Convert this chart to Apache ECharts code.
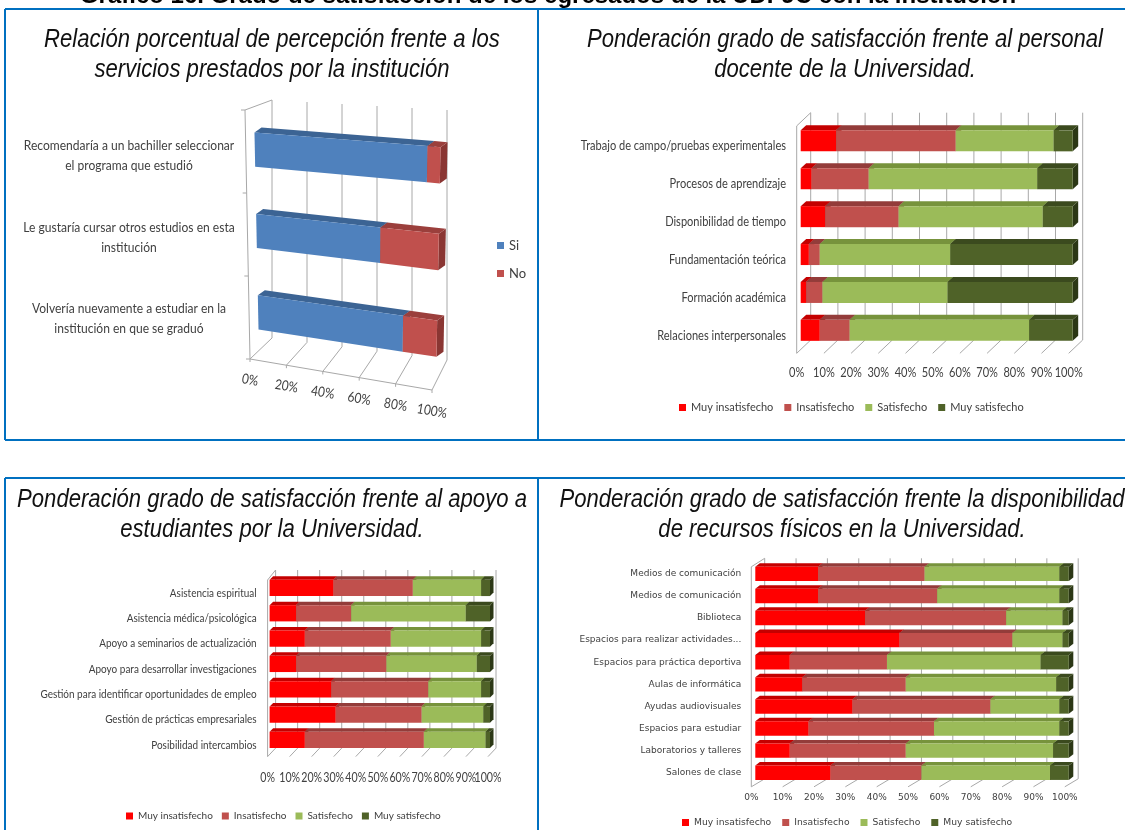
<!DOCTYPE html>
<html><head><meta charset="utf-8">
<script src="https://cdn.jsdelivr.net/npm/echarts@6/dist/echarts.min.js"></script>
<style>html,body{margin:0;padding:0;background:#fff}#c{width:1125px;height:830px}</style>
</head><body><div id="c"></div>
<script>
const CAL = "Lato,'Liberation Sans',sans-serif";   // Calibri-like labels
const SX = 0.85;                                   // horizontal squeeze of label text
const WIDE = "'DejaVu Sans',Verdana,sans-serif";
const ARIAL = "'Liberation Sans',Arial,sans-serif";

// ---------- Panel 1 data ----------
const cat1 = [
  'Recomendaría a un bachiller seleccionar\nel programa que estudió',
  'Le gustaría cursar otros estudios en esta\ninstitución',
  'Volvería nuevamente a estudiar en la\ninstitución en que se graduó'
];
const si1 = [93, 68, 81];
const no1 = [7, 32, 19];
const ticks1 = [0, 20, 40, 60, 80, 100];

// ---------- Panel 2 data ----------
const cat2 = ['Trabajo de campo/pruebas experimentales','Procesos de aprendizaje','Disponibilidad de tiempo','Fundamentación teórica','Formación académica','Relaciones interpersonales'];
const muyIns2 = [13, 4, 9, 3, 2, 7];
const ins2    = [44, 21, 27, 4, 6, 11];
const sat2    = [36, 62, 53, 48, 46, 66];
const muySat2 = [7, 13, 11, 45, 46, 16];

// ---------- Panel 3 data ----------
const cat3 = ['Asistencia espiritual','Asistencia médica/psicológica','Apoyo a seminarios de actualización','Apoyo para desarrollar investigaciones','Gestión para identificar oportunidades de empleo','Gestión de prácticas empresariales','Posibilidad intercambios'];
const muyIns3 = [29, 12, 16, 12, 28, 30, 16];
const ins3    = [36, 25, 39, 41, 44, 39, 54];
const sat3    = [31, 52, 41, 41, 24, 28, 28];
const muySat3 = [4, 11, 4, 6, 4, 3, 2];

// ---------- Panel 4 data ----------
const cat4 = ['Medios de comunicación','Medios de comunicación','Biblioteca','Espacios para realizar actividades...','Espacios para práctica deportiva','Aulas de informática','Ayudas audiovisuales','Espacios para estudiar','Laboratorios y talleres','Salones de clase'];
const muyIns4 = [20, 20, 35, 46, 11, 15, 31, 17, 11, 24];
const ins4    = [34, 38, 45, 36, 31, 33, 44, 40, 37, 29];
const sat4    = [43, 39, 18, 16, 49, 48, 22, 40, 47, 41];
const muySat4 = [3, 3, 2, 2, 9, 4, 3, 3, 5, 6];

const ticks10 = [0,10,20,30,40,50,60,70,80,90,100];
const legNames = ['Muy insatisfecho','Insatisfecho','Satisfecho','Muy satisfecho'];
const titles = [
  'Relación porcentual de percepción frente a los\nservicios prestados por la institución',
  'Ponderación grado de satisfacción frente al personal\ndocente de la Universidad.',
  'Ponderación grado de satisfacción frente al apoyo a\nestudiantes por la Universidad.',
  'Ponderación grado de satisfacción frente la disponibilidad\nde recursos físicos en la Universidad.'
];
const mainTitle = 'Gráfico 16. Grado de satisfacción de los egresados de la UDFJC con la institución';

// ---------- styles ----------
const COL = [
  {front:'#FF0000', top:'#C40000', side:'#9E0000'},
  {front:'#C0504D', top:'#933C3A', side:'#7A302E'},
  {front:'#9BBB59', top:'#77933C', side:'#5E762E'},
  {front:'#4F6228', top:'#3B4A1E', side:'#2B3715'}
];
const COL1 = [
  {front:'#4F81BD', top:'#3C6494', side:'#2F5079'},
  {front:'#C0504D', top:'#9B3F3C', side:'#8A3633'}
];
const GRID_C = '#A8A8A8';
const TXT = '#404040';

function stackRows(list){
  const out = []; const n = list[0].length; const acc = new Array(n).fill(0);
  list.forEach(arr => { out.push(arr.map((v,i)=>{ const r=[i, v, acc[i]]; acc[i]+=v; return r; })); });
  return out;
}
function txt(x, y, s, o){
  return {type:'text', x:x, y:y, scaleX:(o.sx==null?SX:o.sx), rotation:o.rot||0,
    style:{text:s, fill:TXT, fontSize:o.fs, fontFamily:o.ff||CAL, align:o.align||'center',
      verticalAlign:'middle', lineHeight:o.lh||Math.round(o.fs*1.25)}};
}

function flatBar(ratio, dx, dy, col){
  return function(params, api){
    const cat = api.value(0), v = api.value(1), s = api.value(2);
    const a = api.coord([s, cat]), b = api.coord([s+v, cat]);
    const h = api.size([0,1])[1]*ratio;
    const x0=a[0], x1=b[0], yT=a[1]-h/2, yB=a[1]+h/2;
    return {type:'group', children:[
      {type:'polygon', shape:{points:[[x1,yT],[x1+dx,yT-dy],[x1+dx,yB-dy],[x1,yB]]}, style:{fill:col.side}},
      {type:'polygon', shape:{points:[[x0,yT],[x0+dx,yT-dy],[x1+dx,yT-dy],[x1,yT]]}, style:{fill:col.top}},
      {type:'rect', shape:{x:x0,y:yT,width:x1-x0,height:h}, style:{fill:col.front}}
    ]};
  };
}

function flatFrame(o){
  return function(params, api){
    const t = api.value(0); const cs = params.coordSys;
    const x = api.coord([t, 0])[0];
    const top = cs.y, bot = cs.y + cs.height;
    const st = {stroke:GRID_C, lineWidth:1};
    const ch = [
      {type:'line', shape:{x1:x+o.bx, y1:top+o.wt, x2:x+o.bx, y2:bot+o.fb}, style:st},
      {type:'line', shape:{x1:x+o.fx, y1:bot+o.ff, x2:x+o.bx, y2:bot+o.fb}, style:st}
    ];
    if (o.lab) ch.push(txt(x+o.fx, bot+o.lab, t+'%', {fs:o.fs}));
    if (t === 0){
      ch.push({type:'line', shape:{x1:x+o.fx, y1:bot+o.ff, x2:x+o.fx, y2:top+o.wft}, style:st});
      ch.push({type:'line', shape:{x1:x+o.fx, y1:top+o.wft, x2:x+o.bx, y2:top+o.wt}, style:st});
    }
    return {type:'group', children:ch};
  };
}

// perspective helpers for panel 1 (relative to the grid rectangle)
function bil(q,u,v){
  return [
    (1-u)*(1-v)*q[0][0] + u*(1-v)*q[1][0] + (1-u)*v*q[2][0] + u*v*q[3][0],
    (1-u)*(1-v)*q[0][1] + u*(1-v)*q[1][1] + (1-u)*v*q[2][1] + u*v*q[3][1]
  ];
}
function quadBar(cs){ return [[cs.x,cs.y],[cs.x+cs.width,cs.y+13],[cs.x+5,cs.y+cs.height],[cs.x+cs.width-5,cs.y+cs.height+29]]; }
function quadWall(cs){ return [[cs.x+18,cs.y-9],[cs.x+cs.width+6,cs.y+1],[cs.x+18,cs.y+cs.height-15],[cs.x+cs.width+6,cs.y+cs.height+7]]; }
function floorFront(cs,u){
  const a=[cs.x-4, cs.y+cs.height+6], b=[cs.x+cs.width-9, cs.y+cs.height+37];
  return [a[0]+(b[0]-a[0])*u, a[1]+(b[1]-a[1])*u];
}

function perspBar(col){
  return function(params, api){
    const cs = params.coordSys;
    const cat = api.value(0), v = api.value(1), s = api.value(2);
    const a = api.coord([s, cat]), b = api.coord([s+v, cat]);
    const hh = api.size([0,1])[1]*0.42/2;
    const u0=(a[0]-cs.x)/cs.width, u1=(b[0]-cs.x)/cs.width;
    const vc=(a[1]-cs.y)/cs.height, v0=vc-hh/cs.height, v1=vc+hh/cs.height;
    const q = quadBar(cs);
    const A=bil(q,u0,v0), B=bil(q,u1,v0), C=bil(q,u1,v1), D=bil(q,u0,v1);
    const dx=7, dy=5;
    const d = p => [p[0]+dx, p[1]-dy];
    return {type:'group', children:[
      {type:'polygon', shape:{points:[B,d(B),d(C),C]}, style:{fill:col.side}},
      {type:'polygon', shape:{points:[A,d(A),d(B),B]}, style:{fill:col.top}},
      {type:'polygon', shape:{points:[A,B,C,D]}, style:{fill:col.front}}
    ]};
  };
}

function perspFrame(params, api){
  const cs = params.coordSys;
  const t = api.value(0); const u = t/100;
  const w = quadWall(cs);
  const st = {stroke:GRID_C, lineWidth:1};
  const top = bil(w,u,0), back = bil(w,u,1), f = floorFront(cs,u);
  const ch = [
    {type:'line', shape:{x1:top[0],y1:top[1],x2:back[0],y2:back[1]}, style:st},
    {type:'line', shape:{x1:f[0],y1:f[1],x2:back[0],y2:back[1]}, style:st},
    {type:'line', shape:{x1:f[0],y1:f[1],x2:f[0],y2:f[1]+3}, style:st},
    txt(f[0], f[1]+21, t+'%', {fs:14, rot:-0.17})
  ];
  if (t === 0){
    const f0 = floorFront(cs,0), f1 = floorFront(cs,1);
    const wt = [cs.x-9, cs.y+1];
    ch.push({type:'line', shape:{x1:f0[0],y1:f0[1],x2:f1[0],y2:f1[1]}, style:st});
    ch.push({type:'line', shape:{x1:wt[0],y1:wt[1],x2:f0[0],y2:f0[1]}, style:st});
    ch.push({type:'line', shape:{x1:wt[0],y1:wt[1],x2:w[0][0],y2:w[0][1]}, style:st});
    [0,1/3,2/3,1].forEach(v => {
      const p=[wt[0]+(f0[0]-wt[0])*v, wt[1]+(f0[1]-wt[1])*v];
      ch.push({type:'line', shape:{x1:p[0]-4,y1:p[1],x2:p[0],y2:p[1]}, style:st});
    });
  }
  return {type:'group', children:ch};
}

// category labels placed through the category axis
function catLabels(gi, cats, o){
  return {type:'custom', xAxisIndex:gi, yAxisIndex:gi, clip:false, silent:true, z:2,
    data:cats.map((c,i)=>[0,i]), encode:{x:0,y:1},
    renderItem:function(params, api){
      const i = api.value(1); const p = api.coord([0, i]);
      return txt(p[0]-o.margin, p[1]+o.dy, cats[i], o);
    }};
}

// ---------- grids / axes ----------
const grids = [
  {left:254, top:109, width:187, height:244},
  {left:800.7, top:121.9, width:272, height:227.4},
  {left:269.6, top:575.3, width:220.4, height:177.3},
  {left:755.3, top:562.8, width:313.5, height:221}
];
function xAx(gi, showLab){
  return {gridIndex:gi, type:'value', min:0, max:100, interval:10,
    axisLine:{show:false}, axisTick:{show:false}, splitLine:{show:false},
    axisLabel:{show:showLab, formatter:'{value}%', fontSize:9, fontFamily:WIDE, color:TXT, margin:9.5, padding:[0,8,0,0]}};
}
function yAx(gi, cats, showLab){
  return {gridIndex:gi, type:'category', inverse:true, data:cats,
    axisLine:{show:false}, axisTick:{show:false}, splitLine:{show:false},
    axisLabel:{show:showLab, interval:0, fontSize:9, fontFamily:WIDE, color:TXT, margin:14, padding:[7,0,0,0], align:'right'}};
}
const xAxis = [xAx(0,false), xAx(1,false), xAx(2,false), xAx(3,true)];
const yAxis = [yAx(0,cat1,false), yAx(1,cat2,false), yAx(2,cat3,false), yAx(3,cat4,true)];

// ---------- series ----------
const series = [];
const frameCfg = [
  null,
  {fx:-4, bx:10, ff:4, fb:-9.3, wt:-9.2, wft:4, lab:23.4, fs:13},
  {fx:-2, bx:6, ff:4, fb:-4.5, wt:-5.3, wft:4.7, lab:25.4, fs:12.5},
  {fx:-4, bx:9.4, ff:3, fb:-5, wt:-4.5, wft:4}
];
// panel 1
series.push({type:'custom', xAxisIndex:0, yAxisIndex:0, clip:false, silent:true, z:1,
  data:ticks1.map(t=>[t,0]), encode:{x:0,y:1}, renderItem:perspFrame});
stackRows([si1, no1]).forEach((rows, k) => {
  series.push({type:'custom', name:['Si','No'][k], xAxisIndex:0, yAxisIndex:0, clip:false, silent:true, z:3,
    itemStyle:{color:COL1[k].front}, data:rows, encode:{x:1,y:0}, renderItem:perspBar(COL1[k])});
});
series.push(catLabels(0, cat1, {margin:125, dy:6, fs:14.2, lh:20}));
// panels 2-4
const panels = [
  [1, [muyIns2, ins2, sat2, muySat2], 0.554, 5.5, 5],
  [2, [muyIns3, ins3, sat3, muySat3], 0.64, 3.5, 3.5],
  [3, [muyIns4, ins4, sat4, muySat4], 0.65, 4.5, 3.5]
];
panels.forEach(([gi, list, ratio, dx, dy]) => {
  series.push({type:'custom', xAxisIndex:gi, yAxisIndex:gi, clip:false, silent:true, z:1,
    data:ticks10.map(t=>[t,0]), encode:{x:0,y:1}, renderItem:flatFrame(frameCfg[gi])});
  stackRows(list).forEach((rows, k) => {
    series.push({type:'custom', name:legNames[k], xAxisIndex:gi, yAxisIndex:gi, clip:false, silent:true, z:3,
      itemStyle:{color:COL[k].front}, data:rows, encode:{x:1,y:0}, renderItem:flatBar(ratio, dx, dy, COL[k])});
  });
});
series.push(catLabels(1, cat2, {margin:14.7, dy:5, fs:13, align:'right'}));
series.push(catLabels(2, cat3, {margin:13, dy:5, fs:12, sx:0.83, align:'right'}));

// ---------- legends / frame / titles ----------
const legBase = {icon:'rect', itemWidth:7, itemHeight:7, selectedMode:false};
const legend = [
  Object.assign({}, legBase, {data:['Si','No'], orient:'vertical', left:492, top:234, itemGap:15,
    textStyle:{fontFamily:CAL, fontSize:13, color:TXT}}),
  Object.assign({}, legBase, {data:legNames, left:674, top:397, itemGap:11,
    textStyle:{fontFamily:CAL, fontSize:11, color:TXT}}),
  Object.assign({}, legBase, {data:legNames, left:121, top:806, itemGap:9,
    textStyle:{fontFamily:CAL, fontSize:10, color:TXT}}),
  Object.assign({}, legBase, {data:legNames, left:677, top:813, itemGap:11,
    textStyle:{fontFamily:WIDE, fontSize:9.2, color:TXT}})
];
const B = {stroke:'#0070C0', lineWidth:2};
function titleText(x, y, s){
  return {type:'text', x:x, y:y, scaleX:0.85,
    style:{text:s, fill:'#111', fontFamily:ARIAL, fontStyle:'italic', fontSize:26, lineHeight:30,
      align:'center', verticalAlign:'middle'}};
}
const graphic = [
  {type:'text', x:548, y:8, style:{text:mainTitle, fill:'#000', fontFamily:ARIAL, fontWeight:'bold', fontSize:24, align:'center', verticalAlign:'bottom'}},
  titleText(272, 55, titles[0]),
  titleText(845, 55, titles[1]),
  titleText(272, 515, titles[2]),
  titleText(842, 515, titles[3]),
  {type:'line', shape:{x1:5,y1:9,x2:1125,y2:9}, style:B},
  {type:'line', shape:{x1:5,y1:9,x2:5,y2:440}, style:B},
  {type:'line', shape:{x1:538,y1:9,x2:538,y2:440}, style:B},
  {type:'line', shape:{x1:5,y1:440,x2:1125,y2:440}, style:B},
  {type:'line', shape:{x1:5,y1:478,x2:1125,y2:478}, style:B},
  {type:'line', shape:{x1:5,y1:478,x2:5,y2:830}, style:B},
  {type:'line', shape:{x1:538,y1:478,x2:538,y2:830}, style:B}
];

const chart = echarts.init(document.getElementById('c'));
chart.setOption({
  backgroundColor:'#ffffff', animation:false,
  legend:legend, grid:grids, xAxis:xAxis, yAxis:yAxis, series:series, graphic:graphic
});
</script></body></html>
